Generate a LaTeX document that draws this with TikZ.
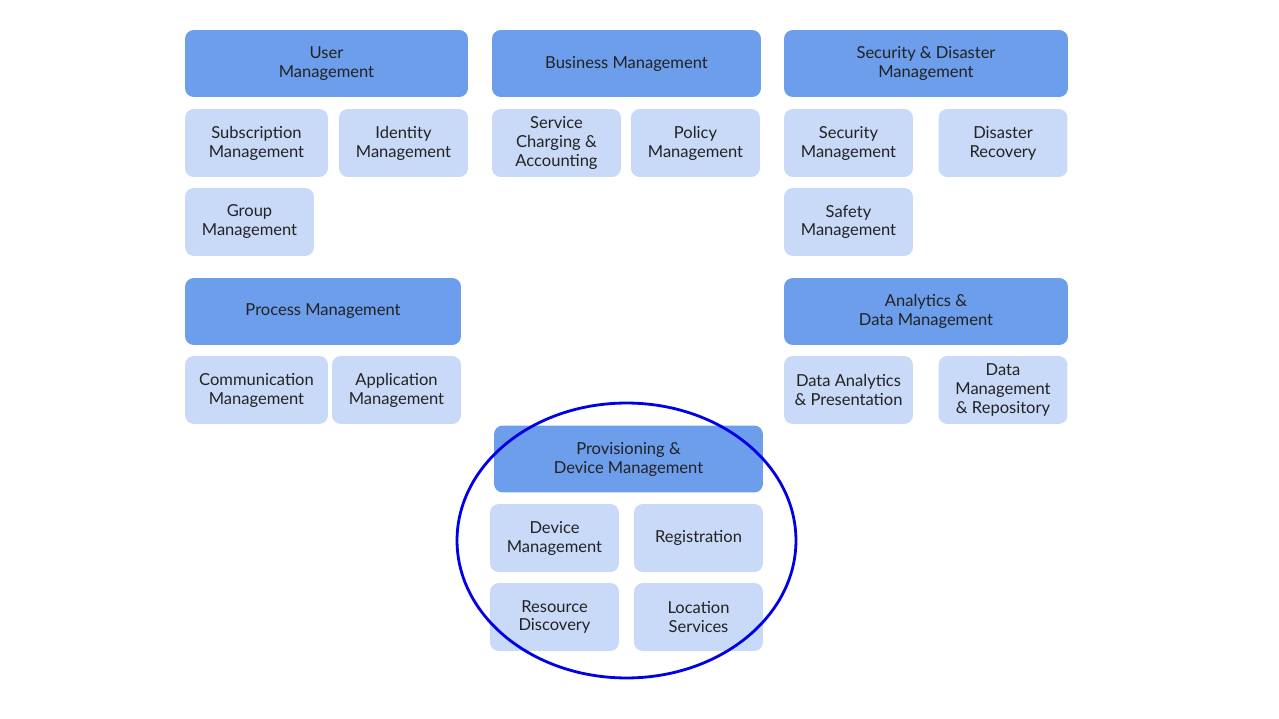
\documentclass[tikz,border=0pt]{standalone}
\usepackage{fontspec}
\setmainfont{Lato}
\usepackage{tikz}
\usetikzlibrary{positioning}
\usepackage{xcolor}
\definecolor{headblue}{HTML}{6D9EEB}
\definecolor{itemblue}{HTML}{C9DAF8}
\definecolor{ringblue}{HTML}{0000E6}
\definecolor{txtgray}{HTML}{222222}

\tikzset{
    box/.style={rounded corners=5pt, align=center, inner sep=0pt, text=txtgray,
        font=\fontsize{9.4}{10.8}\selectfont},
    head/.style={box, fill=headblue, minimum height=1.34cm},
    item/.style={box, fill=itemblue, minimum height=1.36cm, minimum width=2.58cm},
}

\begin{document}
\begin{tikzpicture}[x=0.02cm, y=-0.02cm]
    \useasboundingbox (0,0) rectangle (1279,719);

    % User Management
    \node[head, minimum width=5.66cm] (user) at (326.5,63.5) {User\\Management};
    \node[item, minimum width=2.86cm] (subscr) at (256.5,143) {Subscription\\Management};
    \node[item] (ident) at (403.5,143) {Identity\\Management};
    \node[item] (group) at (249.5,222) {Group\\Management};

    % Business Management
    \node[head, minimum width=5.38cm] (business) at (626.5,63.5) {Business Management};
    \node[item] (charging) at (556.5,143) {Service\\Charging \&\\Accounting};
    \node[item] (policy) at (695.5,143) {Policy\\Management};

    % Security & Disaster
    \node[head, minimum width=5.68cm] (secdis) at (926,63.5) {Security \& Disaster\\Management};
    \node[item] (security) at (848.5,143) {Security\\Management};
    \node[item] (disaster) at (1003,143) {Disaster\\Recovery};
    \node[item] (safety) at (848.5,222) {Safety\\Management};

    % Process Management
    \node[head, minimum width=5.52cm] (process) at (323,311.5) {Process Management};
    \node[item, minimum width=2.86cm] (comm) at (256.5,390) {Communication\\Management};
    \node[item] (appl) at (396.5,390) {Application\\Management};

    % Analytics & Data
    \node[head, minimum width=5.68cm] (analytics) at (926,311.5) {Analytics \&\\Data Management};
    \node[item] (dataana) at (848.5,390) {Data Analytics\\\& Presentation};
    \node[item] (datarepo) at (1003,390) {Data\\Management\\\& Repository};

    % Provisioning & Device
    \node[head, minimum width=5.38cm] (provision) at (628.5,459) {Provisioning \&\\Device Management};
    \node[item] (device) at (554.5,538) {Device\\Management};
    \node[item] (regist) at (698.5,538) {Registration};
    \node[item] (resource) at (554.5,617) {Resource\\Discovery};
    \node[item] (location) at (698.5,617) {Location\\Services};

    % Hervorhebung
    \draw[ringblue, line width=1.6pt] (626.5,540.5) ellipse [x radius=3.39cm, y radius=2.75cm];
\end{tikzpicture}
\end{document}
